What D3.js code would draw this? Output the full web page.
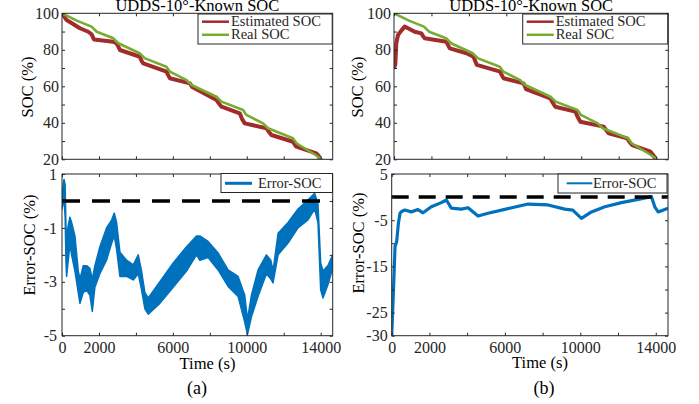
<!DOCTYPE html>
<html>
<head>
<meta charset="utf-8">
<script src="https://cdn.jsdelivr.net/npm/d3@7"></script>
<style>
  body { margin: 0; background: #fff; }
  svg { display: block; font-family: "Liberation Serif", "Times New Roman", serif; }
</style>
</head>
<body>
<div id="chart"></div>
<script>
// ---- data ----
// real SOC (same run in both panels)
const realTime = [0, 800, 1600, 1880, 2780, 3050, 4200, 4490, 5650, 5840, 6740, 7010, 8360, 8630, 9800, 9980, 10880, 11150, 12500, 12690, 13700, 14040, 14650];
const realSOC  = [100, 96.0, 92.7, 89.9, 86.3, 83.6, 78.1, 75.3, 70.7, 68.0, 63.4, 60.7, 54.3, 51.6, 47.0, 44.3, 39.7, 37.0, 31.5, 28.8, 22.5, 20.0, 16.5];

// estimated SOC, panel (a): known initial SOC
const estTimeA = [0, 250, 970, 1420, 1600, 1730, 2775, 2960, 3135, 4216, 4300, 4396, 5658, 5750, 5838, 6919, 7050, 8361, 8500, 8631, 9620, 9750, 9891, 11063, 11200, 11333, 12503, 12600, 12683, 13765, 13900, 14000, 14650];
const estSOCA  = [100, 96.3, 91.8, 89.9, 88.5, 85.7, 84.4, 83.5, 79.9, 76.2, 74.0, 72.6, 68.0, 66.0, 64.4, 61.6, 59.6, 52.5, 50.5, 48.8, 45.2, 42.0, 39.7, 37.0, 35.0, 33.3, 29.6, 28.0, 26.9, 23.3, 21.8, 17.5, 14.5];

// estimated SOC, panel (b): starts at 70 %
const estTimeB = [0, 70, 123, 214, 390, 570, 749, 1105, 1462, 1550, 1640, 2800, 2890, 2978, 3870, 4245, 4330, 4424, 5670, 5760, 5850, 6920, 7050, 8347, 8480, 8614, 9684, 9820, 9951, 11200, 11330, 11465, 12450, 12580, 12717, 13696, 13900, 14000, 14650];
const estSOCB  = [70, 72, 83.6, 88.1, 90.5, 92.7, 91.8, 89.9, 89.0, 87.5, 86.3, 84.4, 82.5, 80.8, 78.1, 76.2, 74.0, 71.7, 68.0, 66.0, 64.4, 61.6, 58.5, 53.4, 51.0, 48.8, 46.1, 43.0, 40.6, 37.9, 36.0, 34.2, 31.5, 29.5, 27.8, 24.2, 21.5, 18.0, 15.0];

// error band (upper / lower edge of the noisy trace), panel (a)
const errTimeA  = [0, 60, 110, 170, 216, 250, 340, 430, 520, 700, 880, 973, 1150, 1330, 1510, 1640, 1780, 2050, 2410, 2690, 2830, 2955, 3135, 3495, 3855, 4126, 4306, 4486, 4666, 5297, 6018, 6739, 7280, 7460, 7908, 8448, 8989, 9529, 9891, 10036, 10252, 10612, 11063, 11300, 11423, 11693, 12233, 12773, 13313, 13675, 13853, 14000, 14125, 14395, 14650];
const errUpperA = [0.1, 0.6, 0.8, 0.6, -1.0, -1.3, -0.9, -0.6, -0.8, -1.3, -2.6, -2.9, -2.4, -2.4, -2.5, -2.9, -2.4, -1.7, -1.0, -0.7, -0.45, -0.8, -1.9, -2.2, -2.37, -2.0, -2.6, -3.4, -3.6, -3.0, -2.3, -1.7, -1.3, -1.3, -1.5, -1.93, -2.56, -2.8, -3.5, -4.4, -3.5, -2.56, -2.0, -2.2, -2.6, -1.2, -0.8, -0.3, 0.04, 0.28, -0.1, -2.3, -2.6, -2.4, -2.0];
const errLowerA = [-0.3, -0.1, 0.1, -0.6, -2.3, -2.8, -2.2, -1.6, -2.0, -2.6, -3.4, -3.8, -3.4, -3.3, -3.5, -4.1, -3.2, -2.7, -2.2, -1.56, -1.3, -1.8, -2.8, -2.8, -2.93, -2.7, -3.3, -4.0, -4.2, -3.8, -3.2, -2.6, -2.0, -2.2, -2.1, -2.56, -3.17, -3.54, -4.5, -4.96, -4.3, -3.54, -2.7, -2.9, -3.04, -2.0, -1.56, -1.0, -0.7, -0.3, -0.8, -3.3, -3.6, -3.1, -2.5];

// error trace, panel (b)
const errTimeB = [0, 88, 177, 265, 354, 442, 510, 690, 1041, 1395, 1660, 2100, 2631, 2897, 3162, 3692, 4048, 4578, 5109, 5994, 7231, 8292, 9178, 9600, 10060, 10590, 11300, 12180, 13067, 13772, 13949, 14127, 14650];
const errB     = [-30, -20.8, -10.7, -9.6, -5.7, -3.5, -3.16, -2.8, -3.2, -2.7, -3.4, -2.1, -1.2, -0.63, -2.4, -2.6, -2.3, -4.1, -3.5, -2.65, -1.5, -1.7, -2.6, -2.8, -4.6, -3.2, -2.1, -1.2, -0.5, 0.1, -2.1, -3.2, -2.4];

// ticks
const timeTicks = [0, 2000, 4000, 6000, 8000, 10000, 12000, 14000];
const timeLabels = [0, 2000, 6000, 10000, 14000];
const socTicks = [100, 90, 80, 70, 60, 50, 40, 30, 20];
const socLabels = [100, 80, 60, 40, 20];
const errTicksA = [1, 0, -1, -2, -3, -4, -5];
const errLabelsA = [1, -1, -3, -5];
const errTicksB = [5, 0, -5, -10, -15, -20, -25, -30];
const errLabelsB = [5, -5, -15, -25, -30];

const titleText = "UDDS-10°-Known SOC";

// ---- drawing ----
const width = 699, height = 404;
const ink = "#262626";
const red = "#A02C2C", green = "#77AC30", blue = "#0072BD";
const tMax = 14650;

const svg = d3.select("#chart").append("svg")
  .attr("width", width)
  .attr("height", height);

let clipId = 0;
function clip(x, y) {
  const id = "clip" + (clipId++);
  svg.append("clipPath").attr("id", id).append("rect")
    .attr("x", x.range()[0]).attr("y", y.range()[1])
    .attr("width", x.range()[1] - x.range()[0])
    .attr("height", y.range()[0] - y.range()[1]);
  return "url(#" + id + ")";
}

function frame(x, y, yTicks, yLabels, xLabels, pad) {
  const [x0, x1] = x.range(), [y0, y1] = y.range();
  const g = svg.append("g").attr("color", ink);
  g.append("g").attr("transform", `translate(0,${y0})`)
    .call(d3.axisBottom(x).tickValues(timeTicks).tickSizeInner(-3).tickSizeOuter(0).tickPadding(6)
      .tickFormat(d => xLabels.includes(d) ? d : ""));
  g.append("g").attr("transform", `translate(0,${y1})`)
    .call(d3.axisTop(x).tickValues(timeTicks).tickSizeInner(-3).tickSizeOuter(0).tickFormat(""));
  g.append("g").attr("transform", `translate(${x0},0)`)
    .call(d3.axisLeft(y).tickValues(yTicks).tickSizeInner(-3).tickSizeOuter(0).tickPadding(pad)
      .tickFormat(d => yLabels.includes(d) ? d : ""));
  g.append("g").attr("transform", `translate(${x1},0)`)
    .call(d3.axisRight(y).tickValues(yTicks).tickSizeInner(-3).tickSizeOuter(0).tickFormat(""));
  g.selectAll(".domain").remove();
  g.selectAll("g").attr("font-family", null).attr("font-size", 16);
  g.selectAll(".tick text").attr("fill", ink);
  g.append("rect")
    .attr("x", x0).attr("y", y1)
    .attr("width", x1 - x0).attr("height", y0 - y1)
    .attr("fill", "none").attr("stroke", ink).attr("stroke-width", 1);
}

function legend(x0, y0, w, h, items, fontSize) {
  const g = svg.append("g");
  g.append("rect").attr("x", x0).attr("y", y0).attr("width", w).attr("height", h)
    .attr("fill", "#fff").attr("stroke", ink).attr("stroke-width", 1);
  items.forEach(it => {
    g.append("line").attr("x1", it.lx1).attr("x2", it.lx2).attr("y1", it.ly).attr("y2", it.ly)
      .attr("stroke", it.color).attr("stroke-width", it.lw);
    g.append("text").attr("x", it.tx).attr("y", it.ly + 4.5).attr("font-size", fontSize)
      .attr("fill", ink).text(it.label);
  });
}

function socPanel(xr, estTime, estSOC, legendBox, tx) {
  const x = d3.scaleLinear().domain([0, tMax]).range(xr);
  const y = d3.scaleLinear().domain([20, 100]).range([159.3, 13.3]);
  const cp = clip(x, y);
  const line = d3.line().x(d => x(d[0])).y(d => y(d[1]));
  svg.append("path").datum(d3.zip(estTime, estSOC)).attr("clip-path", cp)
    .attr("d", line).attr("fill", "none").attr("stroke", red).attr("stroke-width", 4)
    .attr("stroke-linejoin", "round");
  svg.append("path").datum(d3.zip(realTime, realSOC)).attr("clip-path", cp)
    .attr("d", line).attr("fill", "none").attr("stroke", green).attr("stroke-width", 2.6)
    .attr("stroke-linejoin", "round");
  frame(x, y, socTicks, socLabels, [], 3);
  svg.append("text").attr("x", (xr[0] + xr[1]) / 2).attr("y", 11)
    .attr("text-anchor", "middle").attr("font-size", 16.5).attr("fill", "#000").text(titleText);
  const lx = legendBox[0];
  legend(lx, 14, legendBox[1], 30, [
    { label: "Estimated SOC", color: red, lw: 2.5, lx1: lx + 4, lx2: lx + 31, ly: 21.7, tx: lx + 33 },
    { label: "Real SOC", color: green, lw: 2.5, lx1: lx + 4, lx2: lx + 31, ly: 34.8, tx: lx + 33 }
  ], 14.5);
  svg.append("text").attr("transform", `translate(${tx},87) rotate(-90)`)
    .attr("text-anchor", "middle").attr("font-size", 16.5).attr("fill", "#000").text("SOC (%)");
}

// panel (a) top
socPanel([62, 332.7], estTimeA, estSOCA, [198, 134.2], 33);
// panel (b) top
socPanel([394, 668.3], estTimeB, estSOCB, [522.7, 145], 363);

// panel (a) bottom
{
  const x = d3.scaleLinear().domain([0, tMax]).range([62, 332.7]);
  const y = d3.scaleLinear().domain([-5, 1]).range([335.7, 174]);
  const cp = clip(x, y);
  const band = d3.zip(errTimeA, errUpperA, errLowerA);
  const area = d3.area().x(d => x(d[0])).y0(d => y(d[2])).y1(d => y(d[1]));
  svg.append("path").datum(band).attr("clip-path", cp).attr("d", area)
    .attr("fill", blue).attr("stroke", blue).attr("stroke-width", 1.5).attr("stroke-linejoin", "round");
  svg.append("line").attr("x1", x(0)).attr("x2", x(tMax)).attr("y1", y(0)).attr("y2", y(0))
    .attr("stroke", "#000").attr("stroke-width", 3.5).attr("stroke-dasharray", "18,12");
  frame(x, y, errTicksA, errLabelsA, timeLabels, 5);
  legend(221, 173.5, 111.5, 19, [
    { label: "Error-SOC", color: blue, lw: 3, lx1: 225, lx2: 252, ly: 183.3, tx: 258 }
  ], 14.5);
  svg.append("text").attr("transform", "translate(34.5,245) rotate(-90)")
    .attr("text-anchor", "middle").attr("font-size", 16.5).attr("fill", "#000").text("Error-SOC (%)");
  svg.append("text").attr("x", 207.5).attr("y", 369).attr("text-anchor", "middle")
    .attr("font-size", 16.5).attr("fill", "#000").text("Time (s)");
  svg.append("text").attr("x", 197).attr("y", 394).attr("text-anchor", "middle")
    .attr("font-size", 18).attr("fill", "#000").text("(a)");
}

// panel (b) bottom
{
  const x = d3.scaleLinear().domain([0, tMax]).range([391.7, 668]);
  const y = d3.scaleLinear().domain([-30, 5]).range([335.7, 174]);
  const cp = clip(x, y);
  const line = d3.line().x(d => x(d[0])).y(d => y(d[1]));
  svg.append("path").datum(d3.zip(errTimeB, errB)).attr("clip-path", cp).attr("d", line)
    .attr("fill", "none").attr("stroke", blue).attr("stroke-width", 3.2).attr("stroke-linejoin", "round");
  svg.append("line").attr("x1", x(0)).attr("x2", x(tMax)).attr("y1", y(0)).attr("y2", y(0))
    .attr("stroke", "#000").attr("stroke-width", 3.5).attr("stroke-dasharray", "17,10");
  frame(x, y, errTicksB, errLabelsB, timeLabels, 4);
  legend(558, 174, 109, 19, [
    { label: "Error-SOC", color: blue, lw: 2, lx1: 566.7, lx2: 592.3, ly: 183.3, tx: 593 }
  ], 14.5);
  svg.append("text").attr("transform", "translate(363.5,243) rotate(-90)")
    .attr("text-anchor", "middle").attr("font-size", 16.5).attr("fill", "#000").text("Error-SOC (%)");
  svg.append("text").attr("x", 540).attr("y", 368).attr("text-anchor", "middle")
    .attr("font-size", 16.5).attr("fill", "#000").text("Time (s)");
  svg.append("text").attr("x", 544).attr("y", 394).attr("text-anchor", "middle")
    .attr("font-size", 18).attr("fill", "#000").text("(b)");
}
</script>
</body>
</html>
